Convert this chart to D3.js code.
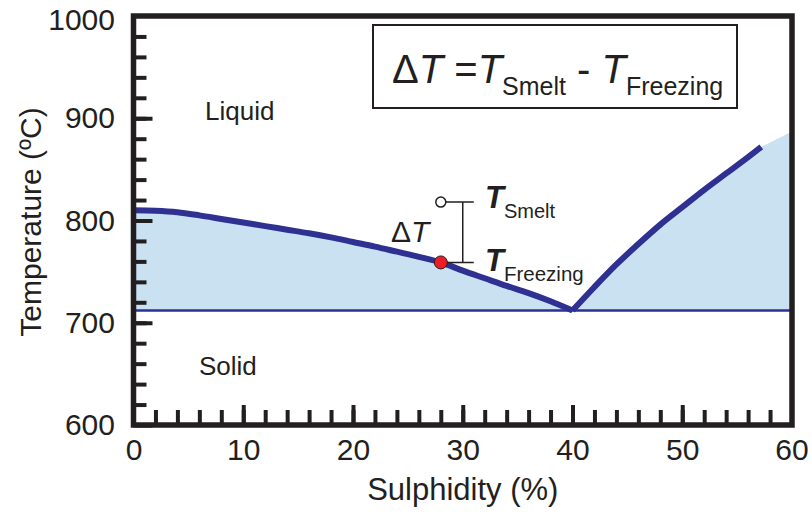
<!DOCTYPE html>
<html>
<head>
<meta charset="utf-8">
<script src="https://cdn.jsdelivr.net/npm/d3@7"></script>
<style>
  body { margin: 0; background: #fff; }
  text { font-family: "Liberation Sans", Arial, sans-serif; fill: #231f20; }
</style>
</head>
<body>
<div id="chart"></div>
<script>
/* svg size */
const width = 812;
const height = 515;

/* liquidus curve, sulphidity (%) vs temperature (C) */
const liquidusLeft = [
    [0, 810], [2, 809.5], [4, 808], [6, 805], [8, 801.5], [10, 798], [12, 794.5],
    [14, 791], [16, 787.5], [18, 783.5], [20, 779], [22, 774.5], [24, 769.5],
    [26, 764.5], [28, 759], [30, 751], [32, 743.5], [34, 736], [36, 729],
    [38, 721], [40, 712]
];
const liquidusRight = [
    [40, 712], [42, 735], [44, 757], [46, 777], [48, 796], [50, 813],
    [52, 830], [54, 846], [56, 862], [57.2, 872]
];
/* shaded region keeps going up to the right border */
const fillEnd = [60, 887];
const eutecticT = 712;

/* smelt / freezing points */
const smeltPoint = [28, 818];
const freezePoint = [28, 759];
const bracketX = 30;

const xTicks = [0, 10, 20, 30, 40, 50, 60];
const yTicks = [600, 700, 800, 900, 1000];

const x = d3.scaleLinear().domain([0, 60]).range([133.5, 792]);
const y = d3.scaleLinear().domain([600, 1000]).range([425, 16]);

const svg = d3.select("#chart").append("svg")
    .attr("width", width)
    .attr("height", height);

/* light blue liquid+solid region */
const fillPts = liquidusLeft.concat(liquidusRight.slice(1), [fillEnd]);
const area = d3.area()
    .x(d => x(d[0]))
    .y0(y(eutecticT))
    .y1(d => y(d[1]));
svg.append("path")
    .datum(fillPts)
    .attr("d", area)
    .attr("fill", "#c9e1f0");

/* eutectic line */
svg.append("line")
    .attr("x1", x(0)).attr("x2", x(60))
    .attr("y1", y(eutecticT)).attr("y2", y(eutecticT))
    .attr("stroke", "#2e3192")
    .attr("stroke-width", 2.5);

/* liquidus */
const line = d3.line()
    .x(d => x(d[0]))
    .y(d => y(d[1]))
    .curve(d3.curveMonotoneX);
[liquidusLeft, liquidusRight].forEach(function(seg) {
    svg.append("path")
        .datum(seg)
        .attr("d", line)
        .attr("fill", "none")
        .attr("stroke", "#2e3192")
        .attr("stroke-width", 6);
});

/* axes: ticks point inward */
const yMajor = d3.axisLeft(y).tickValues(yTicks.slice(0, -1)).tickSize(-19).tickPadding(18.5);
const yMinor = d3.axisLeft(y).tickValues(d3.range(620, 1000, 20)).tickSize(-13).tickFormat("");
const xMajor = d3.axisBottom(x).tickValues(xTicks.slice(0, -1)).tickSize(-20).tickPadding(14);
const xMinor = d3.axisBottom(x).tickValues(d3.range(2, 60, 2)).tickSize(-15).tickFormat("");

function styleAxis(g) {
    g.select(".domain").remove();
    g.selectAll(".tick line").attr("stroke", "#231f20").attr("stroke-width", 4);
    g.selectAll(".tick text").attr("fill", "#231f20").style("font-size", "30px");
}

svg.append("g").attr("transform", `translate(${x(0)},0)`).call(yMinor).call(styleAxis);
svg.append("g").attr("transform", `translate(${x(0)},0)`).call(yMajor).call(styleAxis);
svg.append("g").attr("transform", `translate(0,${y(600)})`).call(xMinor).call(styleAxis);
svg.append("g").attr("transform", `translate(0,${y(600)})`).call(xMajor).call(styleAxis);

/* labels for the corner values, drawn like the others */
svg.append("text")
    .attr("x", x(0) - 18.5).attr("y", y(1000) + 4)
    .attr("dy", "0.32em")
    .attr("text-anchor", "end")
    .style("font-size", "30px")
    .text(yTicks[yTicks.length - 1]);
svg.append("text")
    .attr("x", x(60)).attr("y", y(600) + 14)
    .attr("dy", "0.71em")
    .attr("text-anchor", "middle")
    .style("font-size", "30px")
    .text(xTicks[xTicks.length - 1]);

/* frame */
svg.append("path")
    .attr("d", `M${x(0)},${y(600)}L${x(0)},${y(1000)}L${x(60)},${y(1000)}L${x(60)},${y(600)}Z`)
    .attr("fill", "none")
    .attr("stroke", "#231f20")
    .attr("stroke-width", 5.5)
    .attr("stroke-linejoin", "miter");

/* axis titles */
svg.append("text")
    .attr("x", x(30)).attr("y", 500)
    .attr("text-anchor", "middle")
    .style("font-size", "31px")
    .text("Sulphidity (%)");
svg.append("text")
    .attr("transform", "translate(41,222) rotate(-90)")
    .attr("text-anchor", "middle")
    .style("font-size", "30px")
    .text("Temperature (ºC)");

/* region labels */
svg.append("text").attr("x", 205).attr("y", 120).style("font-size", "26px").text("Liquid");
svg.append("text").attr("x", 199).attr("y", 375).style("font-size", "26px").text("Solid");

/* formula box */
svg.append("rect")
    .attr("x", 373).attr("y", 25)
    .attr("width", 364).attr("height", 83)
    .attr("fill", "#fff")
    .attr("stroke", "#231f20")
    .attr("stroke-width", 2);
const formula = svg.append("text").attr("x", 392).attr("y", 83).style("font-size", "40px");
formula.append("tspan").text("Δ");
formula.append("tspan").style("font-style", "italic").text("T");
formula.append("tspan").text(" =");
formula.append("tspan").style("font-style", "italic").text("T");
formula.append("tspan").attr("dy", 12).style("font-size", "25px").text("Smelt");
formula.append("tspan").attr("dy", -12).text(" - ");
formula.append("tspan").style("font-style", "italic").text("T");
formula.append("tspan").attr("dy", 12).style("font-size", "25px").text("Freezing");

/* delta T bracket */
const capR = x(bracketX) + 11;
svg.append("path")
    .attr("d", `M${x(smeltPoint[0]) + 5},${y(smeltPoint[1])}H${capR}M${x(bracketX)},${y(smeltPoint[1])}V${y(freezePoint[1])}M${x(freezePoint[0])},${y(freezePoint[1])}H${capR}`)
    .attr("fill", "none")
    .attr("stroke", "#231f20")
    .attr("stroke-width", 1.5);
svg.append("circle")
    .attr("cx", x(smeltPoint[0])).attr("cy", y(smeltPoint[1]))
    .attr("r", 5)
    .attr("fill", "#fff")
    .attr("stroke", "#231f20")
    .attr("stroke-width", 1.5);
svg.append("circle")
    .attr("cx", x(freezePoint[0])).attr("cy", y(freezePoint[1]))
    .attr("r", 6.5)
    .attr("fill", "#ed1c24")
    .attr("stroke", "#231f20")
    .attr("stroke-width", 1);

/* annotation texts */
const tSmelt = svg.append("text").attr("x", 485).attr("y", 208).style("font-size", "31px");
tSmelt.append("tspan").style("font-style", "italic").style("font-weight", "bold").text("T");
tSmelt.append("tspan").attr("dy", 10).style("font-size", "20px").text("Smelt");
const tFreeze = svg.append("text").attr("x", 485).attr("y", 271).style("font-size", "31px");
tFreeze.append("tspan").style("font-style", "italic").style("font-weight", "bold").text("T");
tFreeze.append("tspan").attr("dy", 10).style("font-size", "20.5px").text("Freezing");
const dT = svg.append("text").attr("x", 391).attr("y", 242).style("font-size", "30px");
dT.append("tspan").text("Δ");
dT.append("tspan").style("font-style", "italic").text("T");
</script>
</body>
</html>
